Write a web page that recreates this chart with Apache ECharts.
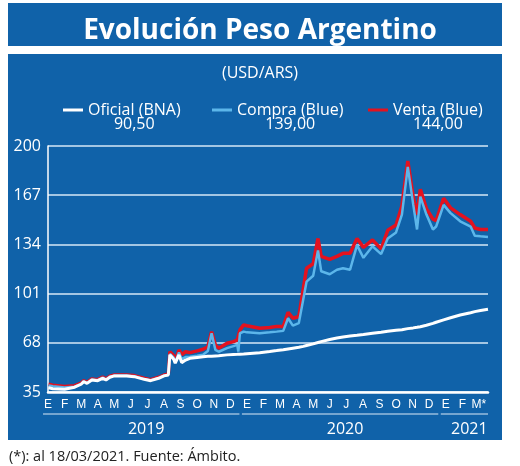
<!DOCTYPE html>
<html>
<head>
<meta charset="utf-8">
<script src="https://cdn.jsdelivr.net/npm/echarts@6/dist/echarts.min.js"></script>
<style>
html, body { margin: 0; padding: 0; background: #fff; }
#main { width: 520px; height: 466px; }
</style>
</head>
<body>
<div id="main"></div>
<script>
// datos (USD/ARS)
var fechas = [
    '2019-01-02', '2019-01-10', '2019-02-01', '2019-02-18', '2019-03-01', '2019-03-06', '2019-03-12', '2019-03-21',
    '2019-04-01', '2019-04-10', '2019-04-16', '2019-04-23', '2019-05-01', '2019-05-24', '2019-06-07', '2019-06-25',
    '2019-07-07', '2019-07-22', '2019-08-01', '2019-08-09', '2019-08-12', '2019-08-19', '2019-08-22', '2019-08-29',
    '2019-09-03', '2019-09-10', '2019-09-18', '2019-10-01', '2019-10-12', '2019-10-21', '2019-10-28', '2019-11-04',
    '2019-11-10', '2019-11-25', '2019-12-07', '2019-12-14', '2019-12-16', '2019-12-19', '2019-12-26', '2020-01-01',
    '2020-01-25', '2020-02-12', '2020-02-24', '2020-03-07', '2020-03-16', '2020-03-25', '2020-04-05', '2020-04-13',
    '2020-04-19', '2020-05-01', '2020-05-10', '2020-05-16', '2020-06-01', '2020-06-14', '2020-06-25', '2020-07-08',
    '2020-07-21', '2020-08-02', '2020-08-19', '2020-09-04', '2020-09-16', '2020-10-01', '2020-10-12', '2020-10-23',
    '2020-11-02', '2020-11-09', '2020-11-15', '2020-11-26', '2020-12-08', '2020-12-14', '2020-12-28', '2021-01-10',
    '2021-01-28', '2021-02-15', '2021-02-22', '2021-03-04', '2021-03-18'
];
var venta = [
    40.2, 39.6, 38.7, 39.2, 41.0, 42.6, 41.4, 43.8,
    43.3, 45.0, 43.8, 45.6, 46.4, 46.4, 46.0, 44.2,
    43.3, 44.9, 46.4, 47.0, 62.1, 59.5, 55.8, 63.2,
    60.0, 62.0, 61.4, 62.6, 63.7, 65.4, 75.5, 66.6,
    64.4, 67.7, 68.8, 69.9, 70.3, 76.7, 80.0, 79.4,
    77.8, 78.2, 79.0, 79.0, 88.5, 84.5, 85.6, 104,
    118, 121, 138, 126, 124, 126, 128, 128,
    138, 132, 137, 131, 143.5, 147, 160, 190,
    166, 154, 171, 158, 151, 150, 165, 158.5,
    154, 149.5, 145, 144, 144
];
var compra = [
    39.4, 38.8, 38.0, 38.6, 40.5, 42.2, 41.0, 43.4,
    42.9, 44.6, 43.4, 45.2, 46.0, 46.0, 45.6, 43.8,
    42.9, 44.5, 46.0, 46.6, 60.5, 58.0, 54.8, 61.5,
    57.0, 58.5, 58.7, 59.4, 60.0, 62.5, 74.4, 63.2,
    62.0, 64.4, 65.8, 66.6, 62.1, 74.4, 75.5, 75.0,
    74.4, 75.0, 75.5, 76.0, 84.5, 79.5, 81.2, 97,
    109, 113, 130, 116, 114, 117, 118, 117,
    133.5, 125, 132.7, 127.5, 138, 142, 154, 186,
    161, 144, 166, 154, 144, 146, 160.5, 155,
    149.5, 146, 139.8, 139.4, 139
];
var oficial = [
    37.8, 37.2, 36.9, 38.2, 40.2, 41.9, 40.8, 43.1,
    42.6, 44.2, 43.1, 44.9, 45.8, 45.8, 45.3, 43.5,
    42.6, 44.2, 45.8, 46.4, 59.9, 57.0, 54.3, 59.9,
    54.7, 56.4, 57.6, 58.2, 58.7, 58.9, 59.0, 59.2,
    59.3, 59.9, 60.2, 60.3, 60.3, 60.4, 60.5, 60.7,
    61.4, 62.2, 62.8, 63.4, 63.9, 64.4, 65.0, 65.6,
    66.2, 67.3, 68.2, 68.8, 70.2, 71.2, 71.9, 72.6,
    73.1, 73.6, 74.4, 75.1, 75.7, 76.4, 76.8, 77.5,
    78.0, 78.4, 78.8, 79.8, 81.0, 81.8, 83.4, 84.8,
    86.6, 88.2, 88.9, 89.6, 90.5
];
var nombres = ['Oficial (BNA)', 'Compra (Blue)', 'Venta (Blue)'];
var ultimos = ['90,50', '139,00', '144,00'];
var meses = ['E', 'F', 'M', 'A', 'M', 'J', 'J', 'A', 'S', 'O', 'N', 'D',
             'E', 'F', 'M', 'A', 'M', 'J', 'J', 'A', 'S', 'O', 'N', 'D',
             'E', 'F', 'M*'];
var anios = ['2019', '2020', '2021'];
var fechaCorte = '2021-03-18';

var AZUL = '#1062a9';
var colores = ['#ffffff', '#5cb6ea', '#e3121f'];
var leyendaIzq = [63, 212, 368];

// fecha -> meses desde enero 2019
function mesIndice(f) {
    var p = f.split('-');
    var y = +p[0], m = +p[1], d = +p[2];
    var dias = new Date(y, m, 0).getDate();
    return (y - 2019) * 12 + (m - 1) + (d - 1) / dias;
}
function serieDe(valores) {
    return fechas.map(function (f, i) { return [mesIndice(f), valores[i]]; });
}
var xMax = mesIndice(fechaCorte);

var myChart = echarts.init(document.getElementById('main'));

var fuente = "'Open Sans', sans-serif";

// una leyenda por serie, con el ultimo valor debajo del nombre
var leyendas = nombres.map(function (n, i) {
    return {
        left: leyendaIzq[i],
        top: 88,
        padding: 0,
        itemWidth: 20,
        itemHeight: 3,
        selectedMode: false,
        data: [{ name: n, icon: 'rect', itemStyle: { color: colores[i] } }],
        formatter: function (name) {
            return '{s| }\n{n|' + name + '}\n{v|' + ultimos[i] + '}';
        },
        textStyle: {
            color: '#fff',
            fontFamily: fuente,
            rich: {
                s: { fontSize: 15, lineHeight: 14.5 },
                n: { fontSize: 16, lineHeight: 14.5, color: '#fff', fontFamily: fuente },
                v: { fontSize: 16, lineHeight: 14.5, color: '#fff', fontFamily: fuente, align: 'center' }
            }
        }
    };
});

var option = {
    backgroundColor: '#fff',
    animation: false,
    title: [{
        text: 'Evolución Peso Argentino',
        left: 'center',
        top: 12,
        textStyle: { color: '#fff', fontSize: 28, fontWeight: 'bold', fontFamily: fuente }
    }, {
        text: '(USD/ARS)',
        left: 'center',
        top: 60,
        textStyle: { color: '#fff', fontSize: 16, fontWeight: 'normal', fontFamily: fuente }
    }, {
        text: '(*): al 18/03/2021. Fuente: Ámbito.',
        left: 4,
        top: 444,
        textStyle: { color: '#222', fontSize: 14.5, fontWeight: 'normal', fontFamily: fuente }
    }],
    legend: leyendas,
    grid: {
        left: 48,
        right: 32,
        top: 146,
        bottom: 74
    },
    xAxis: {
        type: 'value',
        min: 0,
        max: xMax,
        interval: 1,
        axisLine: { show: true, lineStyle: { color: '#fff', width: 2.5 } },
        axisTick: { show: false },
        splitLine: { show: false },
        axisLabel: {
            color: '#fff',
            fontSize: 12,
            fontFamily: "'Liberation Sans Narrow', sans-serif",
            margin: 7,
            showMaxLabel: true,
            formatter: function (v) {
                if (Math.abs(v - Math.round(v)) > 0.001) return '';
                return meses[Math.round(v)] || '';
            }
        }
    },
    yAxis: {
        type: 'value',
        min: 35,
        max: 200,
        interval: 33,
        axisLine: { show: true, lineStyle: { color: '#fff', width: 1.5 } },
        axisTick: { show: false },
        splitLine: { show: true, lineStyle: { color: '#d6e8f7', width: 1.5 } },
        axisLabel: {
            color: '#fff',
            fontSize: 16,
            fontFamily: fuente,
            margin: 7
        }
    },
    series: [{
        name: nombres[2],
        type: 'line',
        data: serieDe(venta),
        showSymbol: false,
        symbol: 'none',
        lineStyle: { color: colores[2], width: 3.5 },
        z: 2
    }, {
        name: nombres[1],
        type: 'line',
        data: serieDe(compra),
        showSymbol: false,
        symbol: 'none',
        lineStyle: { color: colores[1], width: 2.5 },
        z: 3
    }, {
        name: nombres[0],
        type: 'line',
        data: serieDe(oficial),
        showSymbol: false,
        symbol: 'none',
        lineStyle: { color: colores[0], width: 3 },
        z: 4
    }]
};

myChart.setOption(option);

// fondos y marcas de años (debajo del eje)
var graficos = [
    { type: 'rect', z: -10, shape: { x: 8, y: 3, width: 494, height: 43 }, style: { fill: AZUL } },
    { type: 'rect', z: -10, shape: { x: 8, y: 54, width: 494, height: 386 }, style: { fill: AZUL } }
];
anios.forEach(function (a, i) {
    var desde = Math.max(12 * i - 0.3, -0.3);
    var hasta = Math.min(12 * i + 11.55, xMax);
    var x1 = myChart.convertToPixel({ xAxisIndex: 0 }, desde);
    var x2 = myChart.convertToPixel({ xAxisIndex: 0 }, hasta);
    var xc = myChart.convertToPixel({ xAxisIndex: 0 }, (desde + hasta) / 2 + 0.3);
    graficos.push({
        type: 'line', z: 5,
        shape: { x1: x1, y1: 414, x2: x2, y2: 414 },
        style: { stroke: '#dbe9f6', lineWidth: 1 }
    });
    graficos.push({
        type: 'text', z: 5,
        style: {
            text: a, x: xc, y: 429, align: 'center', verticalAlign: 'middle',
            fill: '#fff', fontSize: 16, fontFamily: fuente
        }
    });
});
myChart.setOption({ graphic: graficos });

window.onresize = function () {
    myChart.resize();
};
</script>
</body>
</html>
